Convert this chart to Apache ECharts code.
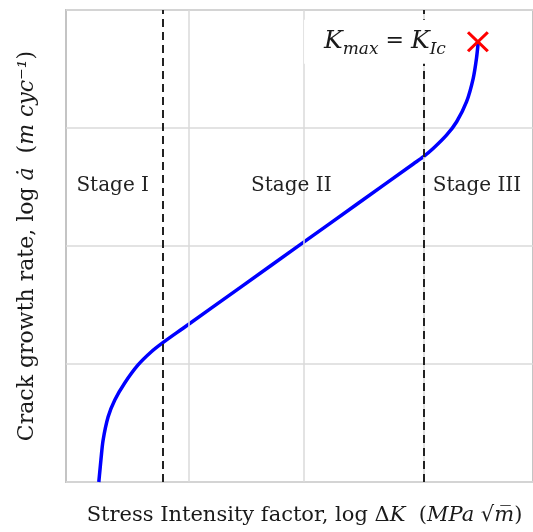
<!DOCTYPE html>
<html>
<head>
<meta charset="utf-8">
<script src="https://cdn.jsdelivr.net/npm/echarts@6/dist/echarts.min.js"></script>
<style>html,body{margin:0;padding:0;background:#fff;}#c{width:533px;height:532px;}</style>
</head>
<body>
<div id="c"></div>
<script>
// Curve (log ΔK, log da/dN) in arbitrary log units
const curveX = [0.281, 0.290, 0.299, 0.318, 0.361, 0.418, 0.503, 0.617, 0.731, 0.830, 1.000, 1.500, 2.000, 2.500, 2.977, 3.062, 3.147, 3.261, 3.346, 3.431, 3.488, 3.516, 3.531];
const curveY = [0.000, 0.093, 0.186, 0.356, 0.553, 0.695, 0.839, 0.992, 1.104, 1.181, 1.301, 1.654, 2.007, 2.360, 2.697, 2.757, 2.828, 2.941, 3.053, 3.223, 3.421, 3.591, 3.731];
// Fracture point
const failX = [3.528];
const failY = [3.731];
// Stage boundaries
const stageBoundX = [0.833, 3.060];
// Stage labels
const stageNames = ['Stage I', 'Stage II', 'Stage III'];
const stageX = [0.40, 1.93, 3.52];
const stageY = [2.51, 2.51, 2.51];
// Vertical grid positions
const xGridValues = [1.05, 2.04, 3.055];
const xMin = 0, xMax = 4, yMin = 0, yMax = 4, yInterval = 1;

const serif = 'DejaVu Serif';
const txtColor = '#1a1a1a';

const chart = echarts.init(document.getElementById('c'), null, {renderer: 'canvas'});
chart.setOption({
  animation: false,
  backgroundColor: '#fff',
  grid: {left: 66, top: 10, bottom: 50, right: -2, show: true, borderColor: '#c4c4c4', borderWidth: 2, backgroundColor: 'transparent'},
  xAxis: {
    type: 'value', min: xMin, max: xMax,
    axisLine: {show: false}, axisTick: {show: false}, axisLabel: {show: false},
    splitLine: {show: false},
    name: '{r|Stress Intensity factor, log Δ}{i|K}{r|  (}{i|MPa}{r| √}{i|m̅}{r|)}',
    nameLocation: 'middle', nameGap: 23,
    nameTextStyle: {
      padding: [0, 0, 0, 10],
      rich: {
        r: {fontFamily: serif, fontSize: 21, color: txtColor},
        i: {fontFamily: serif, fontSize: 21, fontStyle: 'italic', color: txtColor}
      }
    }
  },
  yAxis: {
    type: 'value', min: yMin, max: yMax, interval: yInterval,
    axisLine: {show: false}, axisTick: {show: false}, axisLabel: {show: false},
    splitLine: {show: true, lineStyle: {color: '#dadada', width: 1.5}},
    name: '{r|Crack growth rate, log }{i|ȧ}{r|  (}{i|m cyc⁻¹}{r|)}',
    nameLocation: 'middle', nameGap: 28, nameRotate: 90,
    nameTextStyle: {
      rich: {
        r: {fontFamily: serif, fontSize: 22, color: txtColor},
        i: {fontFamily: serif, fontSize: 22, fontStyle: 'italic', color: txtColor}
      }
    }
  },
  series: [
    {
      type: 'line', data: [], z: 1, silent: true,
      markLine: {
        silent: true, symbol: 'none', label: {show: false},
        lineStyle: {type: 'solid', color: '#dadada', width: 1.5},
        data: xGridValues.map(v => ({xAxis: v}))
      }
    },
    {
      type: 'line', data: [], z: 2, silent: true,
      markLine: {
        silent: true, symbol: 'none', label: {show: false},
        lineStyle: {type: [8, 5], color: '#222', width: 2},
        data: stageBoundX.map(v => ({xAxis: v}))
      }
    },
    {
      type: 'line', z: 3,
      data: curveX.map((x, i) => [x, curveY[i]]),
      showSymbol: false, smooth: 0.3,
      lineStyle: {color: '#0000ff', width: 3.5}
    },
    {
      type: 'scatter', z: 5,
      data: stageNames.map((n, i) => ({name: n, value: [stageX[i], stageY[i]]})),
      symbolSize: 0,
      itemStyle: {opacity: 1},
      label: {show: true, position: 'inside', formatter: p => p.name, fontFamily: serif, fontSize: 20, color: '#222'}
    },
    {
      type: 'scatter', z: 6,
      data: failX.map((x, i) => [x, failY[i]]),
      symbol: 'path://M2,0 L10,8 L18,0 L20,2 L12,10 L20,18 L18,20 L10,12 L2,20 L0,18 L8,10 L0,2 Z',
      symbolSize: [22, 21],
      itemStyle: {color: '#ff0000', opacity: 1},
      label: {
        show: true, position: 'left', distance: 4,
        backgroundColor: '#fff', padding: [6, 17, 6, 20],
        formatter: '{k|K}{s|max}{e| = }{k|K}{s|Ic}',
        rich: {
          k: {fontFamily: serif, fontStyle: 'italic', fontSize: 25, lineHeight: 32, color: txtColor},
          s: {fontFamily: serif, fontStyle: 'italic', fontSize: 17, lineHeight: 16, verticalAlign: 'bottom', color: txtColor},
          e: {fontFamily: serif, fontSize: 22, lineHeight: 32, color: txtColor}
        }
      }
    }
  ]
});
</script>
</body>
</html>
